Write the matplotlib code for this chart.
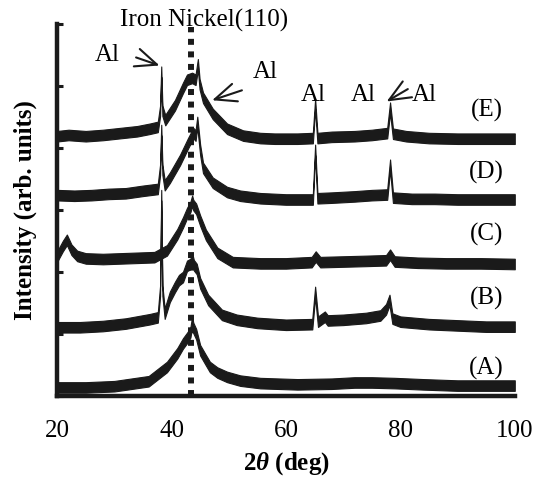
import matplotlib
matplotlib.use("Agg")
import matplotlib.pyplot as plt
import numpy as np

plt.rcParams['font.family'] = ['Liberation Serif', 'DejaVu Serif']
plt.rcParams['mathtext.fontset'] = 'custom'
plt.rcParams['mathtext.it'] = 'Liberation Serif:italic:bold'
plt.rcParams['mathtext.rm'] = 'Liberation Serif:bold'
plt.rcParams['mathtext.bf'] = 'Liberation Serif:bold'

# ---- data (2theta in deg, intensity in offset plot units) ----
tt_A = [20, 25, 30, 36, 39.2, 41, 42, 42.8, 43.3, 43.6, 43.8, 44.3, 45, 46, 46.7, 48, 49.7, 52, 55.5, 62, 68, 72, 75, 79, 84, 90, 95, 100]
I_A = [0.14, 0.14, 0.16, 0.24, 0.47, 0.69, 0.85, 0.95, 1.03, 1.20, 1.10, 1.00, 0.74, 0.58, 0.47, 0.38, 0.31, 0.25, 0.21, 0.19, 0.20, 0.22, 0.22, 0.21, 0.19, 0.17, 0.17, 0.17]

tt_B = [20, 24, 28, 32, 36.2, 37.6, 38.0, 38.2, 38.4, 38.8, 39.7, 40.6, 41.3, 42, 42.7, 43.3, 43.6, 43.9, 44.4, 45, 46.4, 48.8, 51.4, 55, 60, 64.6, 65.1, 65.6, 66.8, 67.3, 70, 74, 76.5, 77.5, 78.1, 78.6, 80, 85, 90, 95, 100]
I_B = [1.11, 1.11, 1.13, 1.17, 1.24, 1.27, 1.70, 3.24, 1.70, 1.33, 1.60, 1.76, 1.87, 1.92, 2.10, 2.13, 2.22, 2.11, 2.05, 1.82, 1.55, 1.31, 1.23, 1.18, 1.15, 1.16, 1.68, 1.20, 1.28, 1.22, 1.23, 1.26, 1.30, 1.40, 1.55, 1.25, 1.20, 1.16, 1.14, 1.12, 1.12]

tt_C = [20, 21, 21.7, 22.5, 23.5, 25, 28, 31, 34, 37, 39.2, 41, 42, 42.7, 43.3, 43.6, 43.8, 44.3, 45, 46, 48, 50.7, 55.5, 60, 64.5, 65.2, 66, 70, 74, 77.5, 78.2, 79, 83, 88, 94, 100]
I_C = [2.25, 2.42, 2.52, 2.36, 2.26, 2.22, 2.21, 2.22, 2.23, 2.24, 2.35, 2.61, 2.80, 2.95, 3.05, 3.15, 3.08, 3.02, 2.83, 2.60, 2.31, 2.16, 2.14, 2.14, 2.16, 2.25, 2.16, 2.17, 2.18, 2.19, 2.28, 2.17, 2.15, 2.14, 2.14, 2.13]

tt_D = [20, 23, 26, 29, 32, 35, 37.6, 38.0, 38.2, 38.4, 38.8, 39.7, 41.5, 42.9, 43.8, 44.2, 44.5, 45.0, 45.5, 47.2, 49.7, 52, 55.5, 60, 64.7, 65.1, 65.5, 68, 72, 75, 77.7, 78.2, 78.7, 82, 86, 90, 95, 100]
I_D = [3.24, 3.23, 3.24, 3.26, 3.27, 3.31, 3.34, 3.65, 4.29, 3.65, 3.40, 3.52, 3.81, 4.08, 4.24, 4.20, 4.42, 3.97, 3.68, 3.44, 3.29, 3.23, 3.19, 3.17, 3.17, 3.97, 3.19, 3.20, 3.22, 3.24, 3.25, 3.73, 3.20, 3.18, 3.18, 3.17, 3.17, 3.17]

tt_E = [20, 22, 25, 28, 31, 34, 36.2, 37.6, 38.0, 38.2, 38.4, 38.9, 40.6, 42, 42.7, 43.6, 44.2, 44.6, 44.9, 45.5, 47.2, 49.7, 52.5, 55.5, 58, 62, 64.7, 65.1, 65.5, 68, 72, 75, 77.7, 78.2, 78.7, 81, 85, 90, 95, 100]
I_E = [4.19, 4.21, 4.19, 4.21, 4.24, 4.27, 4.31, 4.34, 4.60, 5.23, 4.60, 4.45, 4.69, 4.97, 5.10, 5.13, 5.10, 5.35, 5.03, 4.81, 4.55, 4.31, 4.20, 4.16, 4.15, 4.15, 4.16, 4.71, 4.16, 4.18, 4.19, 4.21, 4.24, 4.65, 4.23, 4.19, 4.16, 4.15, 4.15, 4.15]

series = [(tt_A, I_A), (tt_B, I_B), (tt_C, I_C), (tt_D, I_D), (tt_E, I_E)]
sample_labels = ['(A)', '(B)', '(C)', '(D)', '(E)']
sample_label_y = [0.44, 1.58, 2.61, 3.61, 4.60]

x_ticks = [20, 40, 60, 80, 100]
feni_pos = 43.4

fig = plt.figure(figsize=(5.34, 4.79), dpi=100)
ax = fig.add_axes([0.107, 0.173, 0.857, 0.777])

band = 0.085
for tt, I in series:
    tt = np.asarray(tt, float)
    I = np.asarray(I, float)
    ax.fill_between(tt, I - band, I + band, color='#1a1a1a', lw=0.8, edgecolor='#1a1a1a')

ax.plot([feni_pos, feni_pos], [0, 5.95], color='#1a1a1a', lw=4.3,
        linestyle=(0, (1.0, 1.1)), solid_capstyle='butt', dash_capstyle='butt')

fs = 18
for lab, y in zip(sample_labels, sample_label_y):
    ax.text(95.1, y, lab, fontsize=fs, ha='center', va='center')

ax.text(45.7, 6.06, 'Iron Nickel(110)', fontsize=fs, ha='center', va='center', clip_on=False)

arrow_kw = dict(arrowstyle='->,head_length=0.7,head_width=0.3', lw=1.5, color='#1a1a1a',
                mutation_scale=22, shrinkA=0, shrinkB=0)
ax.text(28.7, 5.50, 'Al', fontsize=fs, ha='center', va='center')
ax.annotate('', xy=(37.9, 5.33), xytext=(33.8, 5.46), arrowprops=arrow_kw)
ax.text(56.3, 5.23, 'Al', fontsize=fs, ha='center', va='center')
ax.annotate('', xy=(47.1, 4.77), xytext=(52.3, 4.93), arrowprops=arrow_kw)
ax.text(64.7, 4.85, 'Al', fontsize=fs, ha='center', va='center')
ax.text(73.5, 4.85, 'Al', fontsize=fs, ha='center', va='center')
ax.annotate('', xy=(77.6, 4.75), xytext=(81.3, 4.95), arrowprops=arrow_kw)
ax.text(84.1, 4.85, 'Al', fontsize=fs, ha='center', va='center')

ax.set_xlim(20, 100)
ax.set_ylim(0, 6)
ax.set_xticks(x_ticks)
ax.set_xticklabels([str(v) for v in x_ticks], fontsize=fs)
ax.set_yticks(range(7))
ax.set_yticklabels([])
ax.tick_params(axis='x', length=0, pad=17)
ax.tick_params(axis='y', direction='in', length=4, width=2.2, color='#1a1a1a')

for s in ['top', 'right']:
    ax.spines[s].set_visible(False)
for s in ['left', 'bottom']:
    ax.spines[s].set_linewidth(3.2)
    ax.spines[s].set_color('#1a1a1a')

ax.set_xlabel(r'$\mathit{2\theta}$ (deg)', fontsize=fs, fontweight='bold', labelpad=6)
ax.set_ylabel('Intensity (arb. units)', fontsize=fs, fontweight='bold', labelpad=11)

fig.savefig('out.png', dpi=100)
